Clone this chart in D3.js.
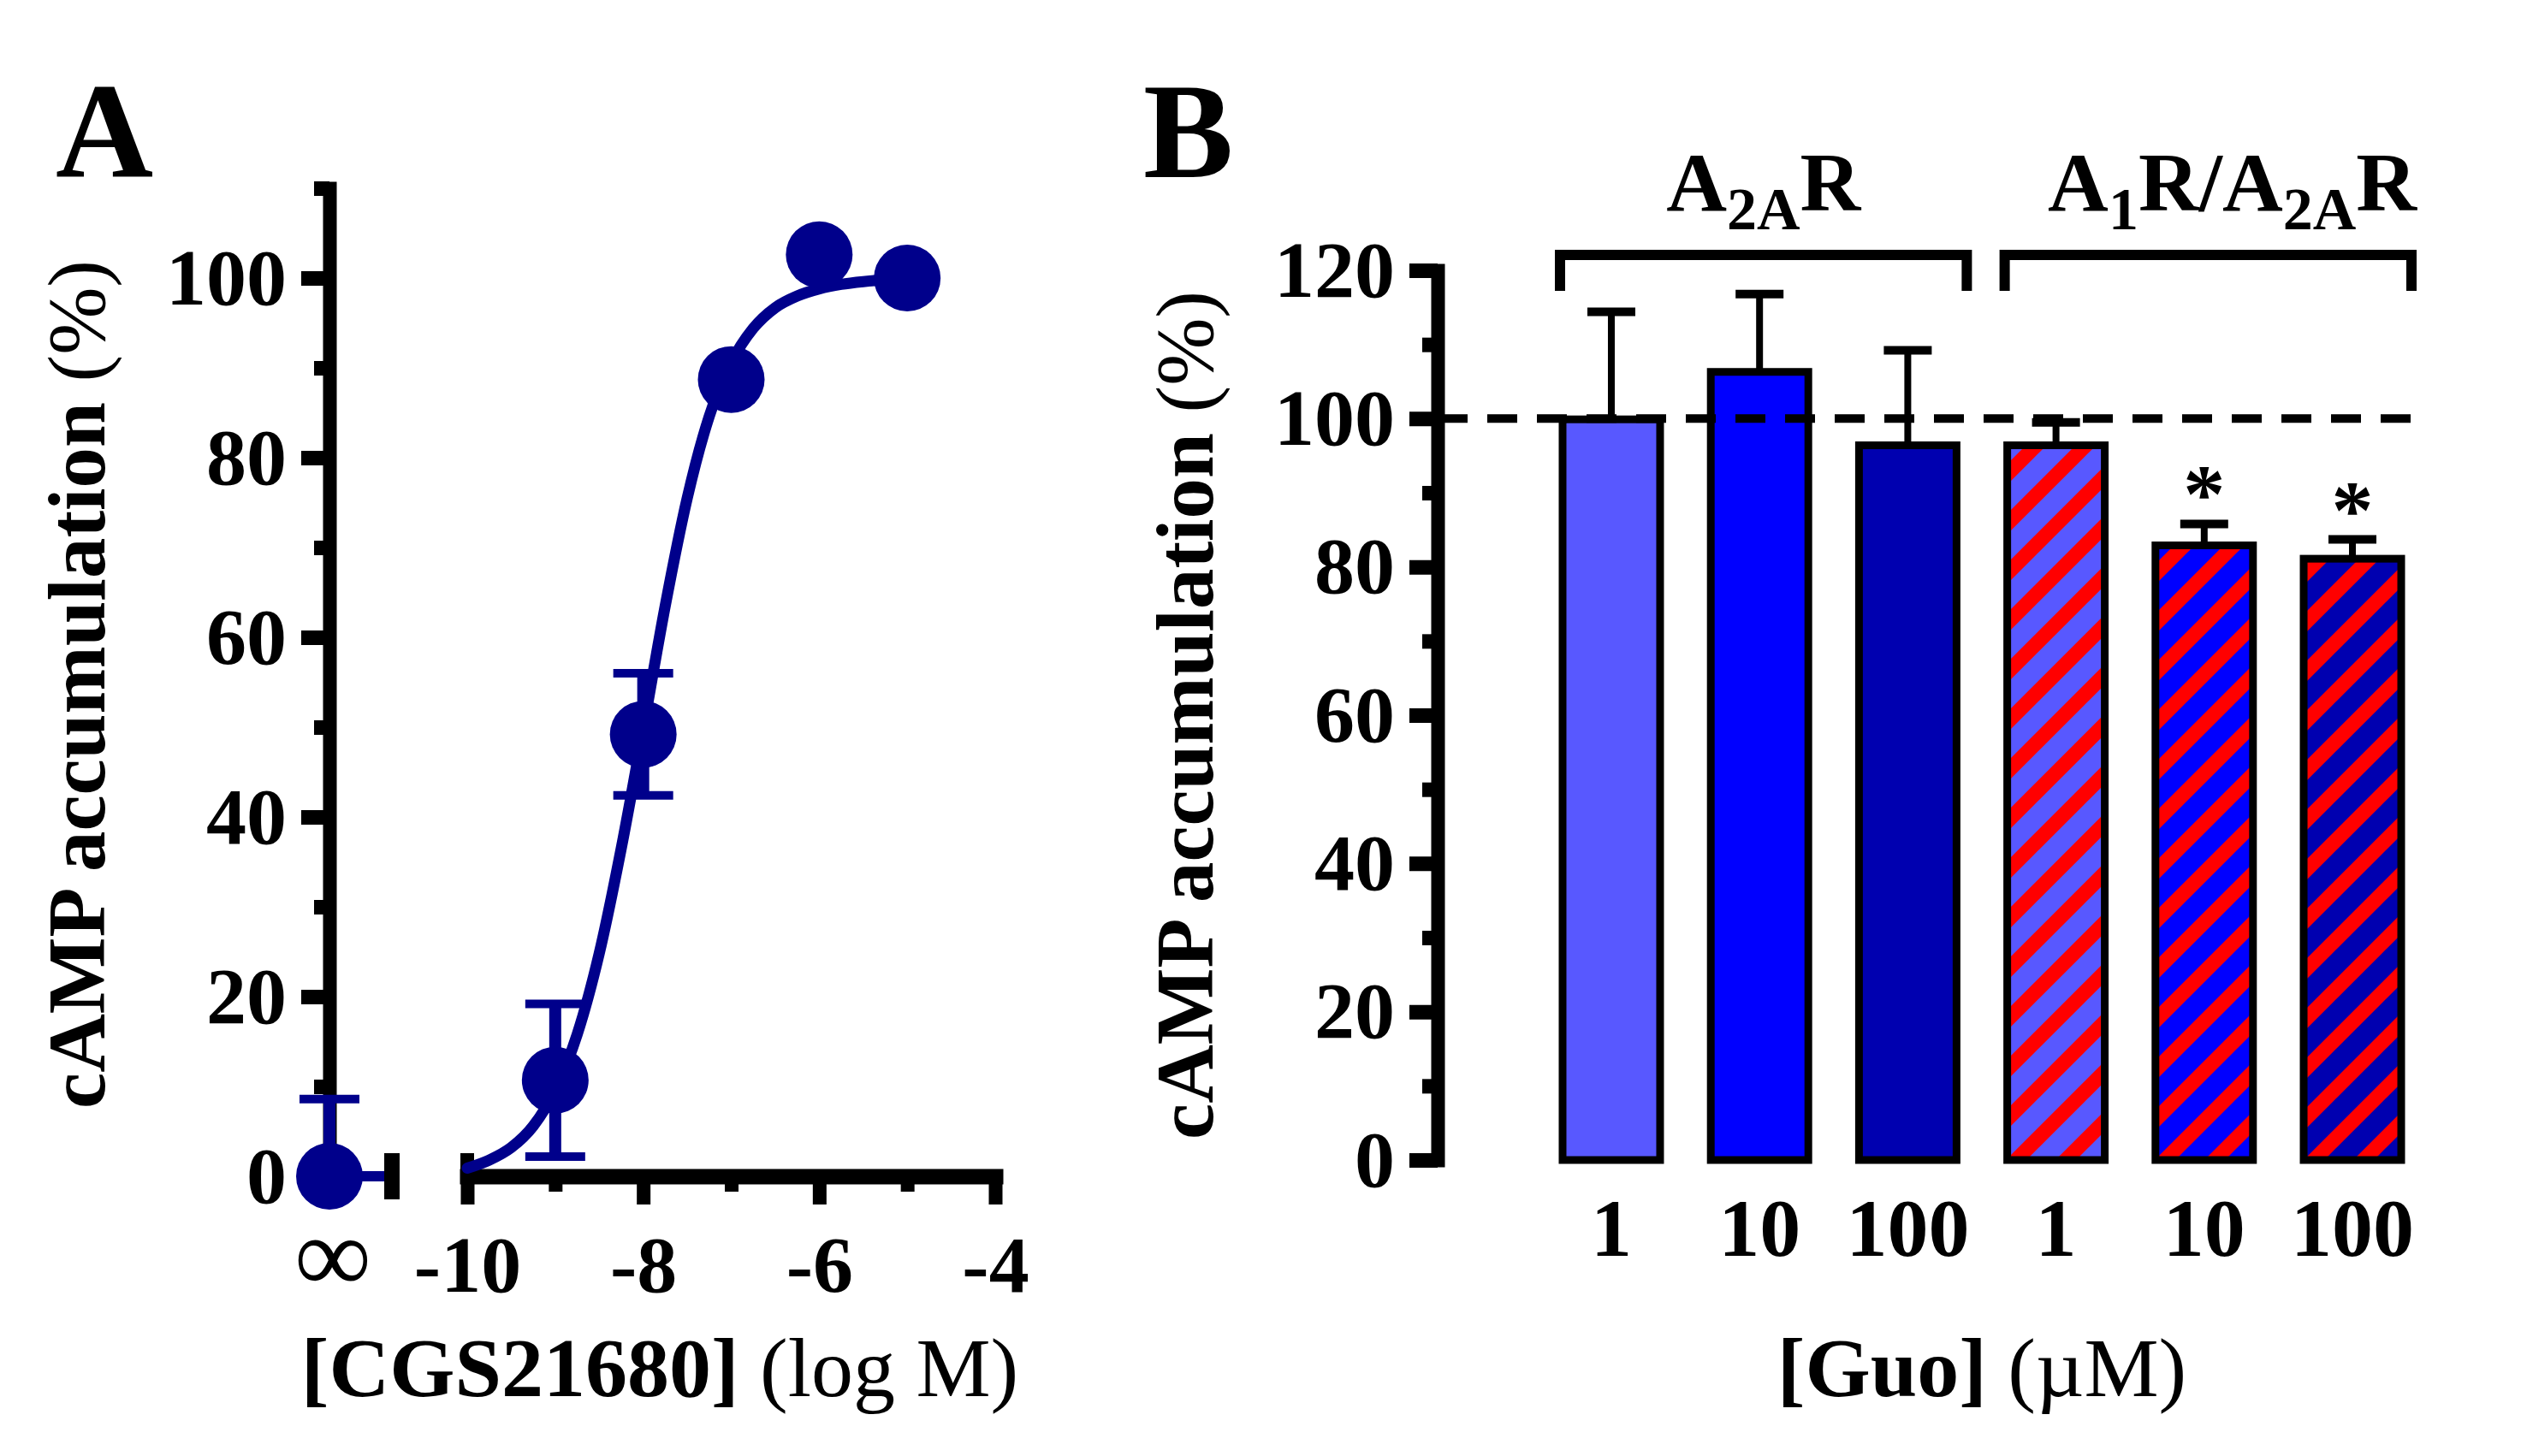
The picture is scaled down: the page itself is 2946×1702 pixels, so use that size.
<!DOCTYPE html>
<html>
<head>
<meta charset="utf-8">
<script src="https://cdn.jsdelivr.net/npm/d3@7"></script>
<style>
  body { margin: 0; background: #fff; }
  svg { display: block; font-family: "Liberation Serif", "Times New Roman", serif; }
</style>
</head>
<body>
<svg id="fig" width="2946" height="1702"></svg>
<script>
// ---- Panel A data: CGS21680 concentration-response ----
const logConc = [-9, -8, -7, -6, -5];
const responseMean = [10.7, 49.2, 88.7, 102.6, 100.0];
const responseSem = [8.5, 6.8, 0, 0, 0];
const basalMean = 0;
const basalSem = 8.6;
// fitted curve
const fitLogConc = [-10, -9.75, -9.5, -9.25, -9, -8.75, -8.5, -8.25, -8, -7.75, -7.5,
                    -7.25, -7, -6.75, -6.5, -6.25, -6, -5.75, -5.5, -5.25, -5];
const fitResponse = [0.9, 1.8, 3.2, 5.6, 9.6, 15.8, 24.8, 36.5, 49.8, 63.5, 75.5,
                     84.6, 90.6, 94.4, 96.7, 98.0, 98.8, 99.3, 99.6, 99.8, 99.9];
const xTicksA = [-10, -8, -6, -4];
const xMinorA = [-9, -7, -5];
const yTicksA = [0, 20, 40, 60, 80, 100];
const yMinorA = [10, 30, 50, 70, 90, 110];

// ---- Panel B data: Guo on cAMP ----
const guoLabels = ['1', '10', '100', '1', '10', '100'];
const barGroup = [0, 0, 0, 1, 1, 1];
const barMean = [99.9, 106.3, 96.4, 96.4, 82.9, 81.1];
const barSem = [14.5, 10.5, 12.8, 3.1, 2.9, 2.6];
const barStar = [false, false, false, false, true, true];
const barHatched = [false, false, false, true, true, true];
const groupLabels = [
    [['A', ''], ['2A', 'sub'], ['R', '']],
    [['A', ''], ['1', 'sub'], ['R/A', ''], ['2A', 'sub'], ['R', '']]
];
const yTicksB = [0, 20, 40, 60, 80, 100, 120];
const yMinorB = [10, 30, 50, 70, 90, 110];
const refValue = 100;

const FONT = '"Liberation Serif", "Times New Roman", serif';
const NAVY = '#00008b';
const barColors = ['#5858ff', '#0000ff', '#0000b0', '#5858ff', '#0000ff', '#0000b0'];
const HATCH = '#ff0000';

const svg = d3.select('#fig');
const defs = svg.append('defs');

//styles a left axis the GraphPad way: thick line, long ticks, bold labels
function styleYAxis(g) {
    g.select('.domain').attr('stroke-width', 16).attr('stroke-linecap', 'square');
    g.selectAll('.tick line').attr('stroke-width', 17);
    g.selectAll('.tick text')
        .attr('font-family', FONT)
        .attr('font-size', 94)
        .attr('font-weight', 'bold')
        .attr('fill', '#000');
}

function addTitle(g, x, y, boldPart, plainPart, rotate) {
    let t = g.append('text')
        .attr('text-anchor', 'middle')
        .attr('font-family', FONT)
        .attr('fill', '#000')
        .style('white-space', 'pre');
    if (rotate) {
        t.attr('transform', `translate(${x},${y}) rotate(-90)`).attr('font-size', 95);
    } else {
        t.attr('x', x).attr('y', y).attr('font-size', 98);
    }
    t.append('tspan').attr('font-weight', 'bold').text(boldPart);
    t.append('tspan').attr('font-weight', 'normal').text(plainPart);
}

// ================= Panel A =================
const gA = svg.append('g');
const AX = 385;
const xA = d3.scaleLinear().domain([-10, -4]).range([546, 1163]);
const yA = d3.scaleLinear().domain([0, 110]).range([1375, 220]);
const baseA = yA(0);

gA.append('g')
    .attr('transform', `translate(${AX},0)`)
    .call(d3.axisLeft(yA).tickValues(yTicksA).tickSize(33).tickSizeOuter(0).tickPadding(17)
        .tickFormat(d3.format('d')))
    .call(styleYAxis);
gA.append('g')
    .attr('transform', `translate(${AX},0)`)
    .call(d3.axisLeft(yA).tickValues(yMinorA).tickSize(18).tickSizeOuter(0).tickFormat(''))
    .call(g => g.select('.domain').remove())
    .selectAll('line').attr('stroke-width', 17);

// x axis (log M part)
const xAxisA = gA.append('g')
    .attr('transform', `translate(0,${baseA})`)
    .call(d3.axisBottom(xA).tickValues(xTicksA).tickSize(33).tickSizeOuter(0).tickPadding(35)
        .tickFormat(d => String(d)));
xAxisA.select('.domain').attr('stroke-width', 18).attr('stroke-linecap', 'square');
xAxisA.selectAll('.tick line').attr('stroke-width', 16);
xAxisA.selectAll('.tick text')
    .attr('font-family', FONT).attr('font-size', 94).attr('font-weight', 'bold').attr('fill', '#000');
gA.append('g')
    .attr('transform', `translate(0,${baseA})`)
    .call(d3.axisBottom(xA).tickValues(xMinorA).tickSize(18).tickSizeOuter(0).tickFormat(''))
    .call(g => g.select('.domain').remove())
    .selectAll('line').attr('stroke-width', 16);
// break marks
gA.append('line')
    .attr('x1', xA(-10)).attr('x2', xA(-10))
    .attr('y1', baseA - 27).attr('y2', baseA)
    .attr('stroke', '#000').attr('stroke-width', 16);

// the infinity (basal) segment
const infEnd = 458;
gA.append('line')
    .attr('x1', AX).attr('x2', infEnd).attr('y1', baseA).attr('y2', baseA)
    .attr('stroke', NAVY).attr('stroke-width', 12);
gA.append('line')
    .attr('x1', infEnd).attr('x2', infEnd).attr('y1', baseA - 27).attr('y2', baseA + 27)
    .attr('stroke', '#000').attr('stroke-width', 18);
gA.append('text')
    .attr('x', AX + 4).attr('y', baseA + 135)
    .attr('text-anchor', 'middle')
    .attr('font-family', FONT).attr('font-size', 126)
    .text('\u221E');

// fitted curve
const fitLine = d3.line()
    .x(d => xA(d[0]))
    .y(d => yA(d[1]))
    .curve(d3.curveMonotoneX);
gA.append('path')
    .datum(d3.zip(fitLogConc, fitResponse))
    .attr('d', fitLine)
    .attr('fill', 'none')
    .attr('stroke', NAVY)
    .attr('stroke-width', 13)
    .attr('stroke-linecap', 'round');

// points with error bars
let pointsA = [{px: AX, m: basalMean, s: basalSem}].concat(
    logConc.map((c, i) => ({px: xA(c), m: responseMean[i], s: responseSem[i]})));

pointsA.forEach(p => {
    if (p.s <= 0) {
        return;
    }
    let hi = p.m + p.s;
    let lo = Math.max(0, p.m - p.s);
    gA.append('line')
        .attr('x1', p.px).attr('x2', p.px).attr('y1', yA(lo)).attr('y2', yA(hi))
        .attr('stroke', NAVY).attr('stroke-width', 14);
    gA.append('line')
        .attr('x1', p.px - 35).attr('x2', p.px + 35).attr('y1', yA(hi)).attr('y2', yA(hi))
        .attr('stroke', NAVY).attr('stroke-width', 10);
    if (p.m - p.s >= 0) {
        gA.append('line')
            .attr('x1', p.px - 35).attr('x2', p.px + 35).attr('y1', yA(lo)).attr('y2', yA(lo))
            .attr('stroke', NAVY).attr('stroke-width', 10);
    }
});

gA.selectAll('circle.pt').data(pointsA).enter()
    .append('circle')
    .classed('pt', true)
    .attr('cx', d => d.px)
    .attr('cy', d => yA(d.m))
    .attr('r', 39)
    .attr('fill', NAVY);

addTitle(gA, 771, 1632, '[CGS21680]', ' (log M)', false);
addTitle(gA, 122, 800, 'cAMP accumulation', ' (%)', true);
gA.append('text')
    .attr('x', 65).attr('y', 207)
    .attr('font-family', FONT).attr('font-size', 158).attr('font-weight', 'bold')
    .text('A');

// ================= Panel B =================
const gB = svg.append('g');
const BX = 1680;
const xB = d3.scaleBand()
    .domain(d3.range(barMean.length))
    .range([1826, 2806])
    .paddingInner(0.342)
    .paddingOuter(0);
const yB = d3.scaleLinear().domain([0, 120]).range([1356, 316]);
const bw = xB.bandwidth();

// hatch patterns for co-expressing cells
barHatched.forEach((h, i) => {
    if (!h) return;
    let P = 58;
    let pat = defs.append('pattern')
        .attr('id', 'hatch' + i)
        .attr('patternUnits', 'userSpaceOnUse')
        .attr('width', P).attr('height', P);
    pat.append('rect').attr('width', P).attr('height', P).attr('fill', barColors[i]);
    pat.append('path')
        .attr('d', `M0,${P} L${P},0 M${-P / 2},${P / 2} L${P / 2},${-P / 2} M${P / 2},${1.5 * P} L${1.5 * P},${P / 2}`)
        .attr('stroke', HATCH)
        .attr('stroke-width', 17);
});

gB.append('g')
    .attr('transform', `translate(${BX},0)`)
    .call(d3.axisLeft(yB).tickValues(yTicksB).tickSize(33).tickSizeOuter(0).tickPadding(17)
        .tickFormat(d3.format('d')))
    .call(styleYAxis);
gB.append('g')
    .attr('transform', `translate(${BX},0)`)
    .call(d3.axisLeft(yB).tickValues(yMinorB).tickSize(18).tickSizeOuter(0).tickFormat(''))
    .call(g => g.select('.domain').remove())
    .selectAll('line').attr('stroke-width', 17);

// category labels under the bars, no axis line
const xAxisB = gB.append('g')
    .attr('transform', `translate(0,${yB(0)})`)
    .call(d3.axisBottom(xB).tickSize(0).tickPadding(44).tickFormat(i => guoLabels[i]));
xAxisB.select('.domain').remove();
xAxisB.selectAll('.tick text')
    .attr('font-family', FONT).attr('font-size', 96).attr('font-weight', 'bold').attr('fill', '#000');

gB.selectAll('rect.bar').data(barMean).enter()
    .append('rect')
    .classed('bar', true)
    .attr('x', (d, i) => xB(i))
    .attr('y', d => yB(d))
    .attr('width', bw)
    .attr('height', d => yB(0) - yB(d))
    .attr('fill', (d, i) => barHatched[i] ? `url(#hatch${i})` : barColors[i])
    .attr('stroke', '#000')
    .attr('stroke-width', 9);

// 100% reference
gB.append('line')
    .attr('x1', BX).attr('x2', 2834)
    .attr('y1', yB(refValue)).attr('y2', yB(refValue))
    .attr('stroke', '#000')
    .attr('stroke-width', 10)
    .attr('stroke-dasharray', '35,23');

barMean.forEach((m, i) => {
    let cx = xB(i) + bw / 2;
    let top = m + barSem[i];
    gB.append('line')
        .attr('x1', cx).attr('x2', cx).attr('y1', yB(m)).attr('y2', yB(top))
        .attr('stroke', '#000').attr('stroke-width', 8);
    gB.append('line')
        .attr('x1', cx - 28).attr('x2', cx + 28).attr('y1', yB(top)).attr('y2', yB(top))
        .attr('stroke', '#000').attr('stroke-width', 10);
    if (barStar[i]) {
        gB.append('text')
            .attr('x', cx).attr('y', yB(top) - 2)
            .attr('text-anchor', 'middle')
            .attr('font-family', FONT).attr('font-size', 98).attr('font-weight', 'bold')
            .text('*');
    }
});

// group brackets
groupLabels.forEach((parts, g) => {
    let idx = d3.range(barMean.length).filter(i => barGroup[i] === g);
    let x1 = xB(idx[0]) - 3;
    let x2 = xB(idx[idx.length - 1]) + bw + 12;
    let yb = 298;
    gB.append('path')
        .attr('d', `M${x1},340 V${yb} H${x2} V340`)
        .attr('fill', 'none')
        .attr('stroke', '#000')
        .attr('stroke-width', 12);

    let t = gB.append('text')
        .attr('y', 246)
        .attr('font-family', FONT)
        .attr('font-size', 98)
        .attr('font-weight', 'bold');
    if (g === 0) {
        t.attr('x', (x1 + x2) / 2).attr('text-anchor', 'middle');
    } else {
        t.attr('x', x2 + 6).attr('text-anchor', 'end');
    }
    let shifted = false;
    parts.forEach(p => {
        let sp = t.append('tspan').text(p[0]);
        if (p[1] === 'sub') {
            sp.attr('font-size', 70).attr('dy', shifted ? 0 : 22);
            shifted = true;
        } else {
            sp.attr('dy', shifted ? -22 : 0);
            shifted = false;
        }
    });
});

addTitle(gB, 2316, 1632, '[Guo]', ' (\u00B5M)', false);
addTitle(gB, 1417, 836, 'cAMP accumulation', ' (%)', true);
gB.append('text')
    .attr('x', 1336).attr('y', 207)
    .attr('font-family', FONT).attr('font-size', 158).attr('font-weight', 'bold')
    .text('B');
</script>
</body>
</html>
